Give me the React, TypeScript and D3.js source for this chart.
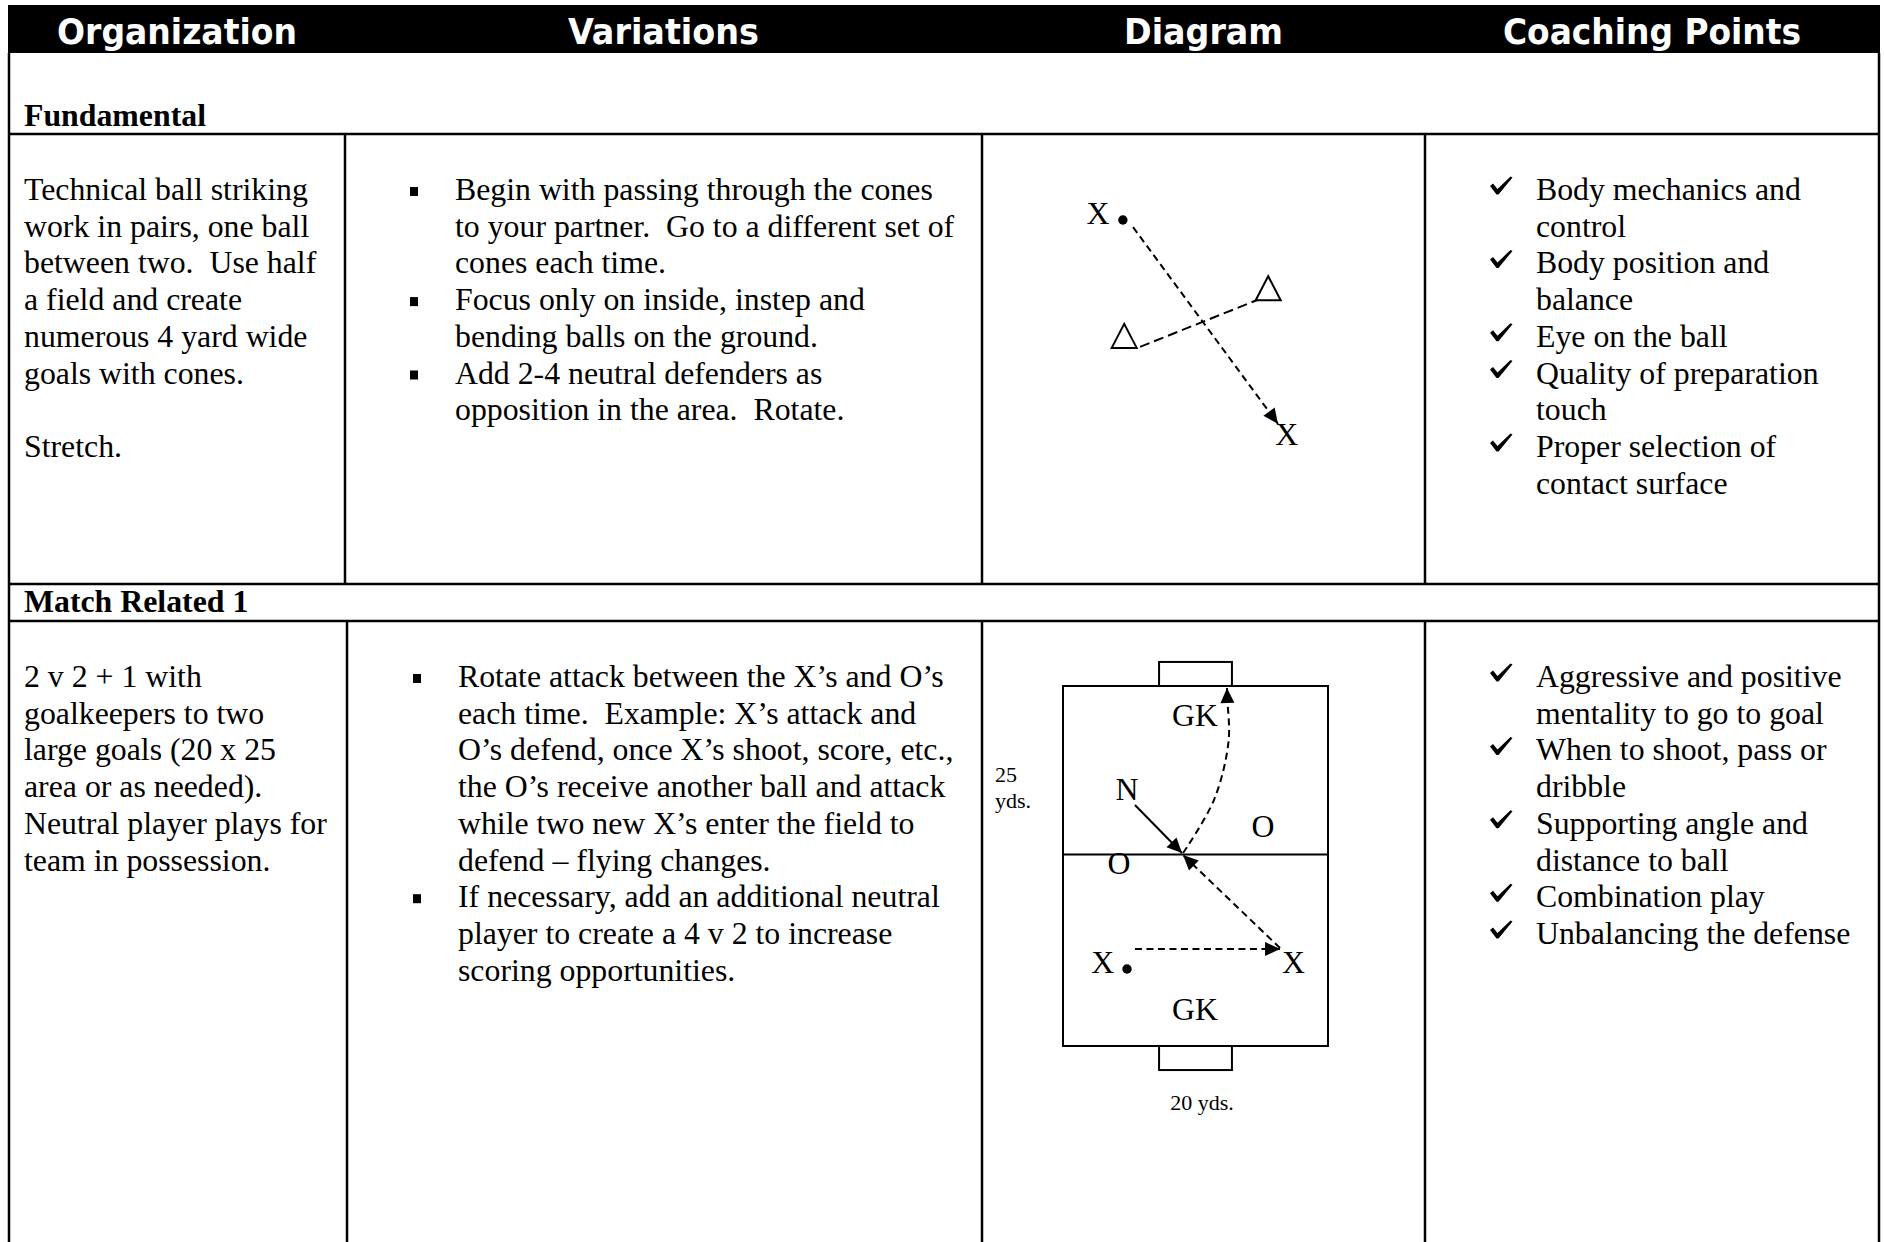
import React, { useEffect } from 'react';
import * as d3 from 'd3';

// ---- content ----
const headers = ['Organization', 'Variations', 'Diagram', 'Coaching Points'];
const sections = ['Fundamental', 'Match Related 1'];

const fundOrganization = [
  'Technical ball striking',
  'work in pairs, one ball',
  'between two.  Use half',
  'a field and create',
  'numerous 4 yard wide',
  'goals with cones.',
  '',
  'Stretch.',
];
const fundVariations = [
  ['Begin with passing through the cones', 'to your partner.  Go to a different set of', 'cones each time.'],
  ['Focus only on inside, instep and', 'bending balls on the ground.'],
  ['Add 2-4 neutral defenders as', 'opposition in the area.  Rotate.'],
];
const fundCoaching = [
  ['Body mechanics and', 'control'],
  ['Body position and', 'balance'],
  ['Eye on the ball'],
  ['Quality of preparation', 'touch'],
  ['Proper selection of', 'contact surface'],
];

const matchOrganization = [
  '2 v 2 + 1 with',
  'goalkeepers to two',
  'large goals (20 x 25',
  'area or as needed).',
  'Neutral player plays for',
  'team in possession.',
];
const matchVariations = [
  [
    'Rotate attack between the X\u2019s and O\u2019s',
    'each time.  Example: X\u2019s attack and',
    'O\u2019s defend, once X\u2019s shoot, score, etc.,',
    'the O\u2019s receive another ball and attack',
    'while two new X\u2019s enter the field to',
    'defend \u2013 flying changes.',
  ],
  ['If necessary, add an additional neutral', 'player to create a 4 v 2 to increase', 'scoring opportunities.'],
];
const matchCoaching = [
  ['Aggressive and positive', 'mentality to go to goal'],
  ['When to shoot, pass or', 'dribble'],
  ['Supporting angle and', 'distance to ball'],
  ['Combination play'],
  ['Unbalancing the defense'],
];

// ---- diagram 1 (cell units 0-100) ----
const drillLabels = [
  { text: 'X', x: 26.2, y: 20.0 },
  { text: 'X', x: 68.8, y: 69.1 },
];
const drillBalls = [{ x: 31.8, y: 19.1 }];
const drillCones = [
  { x: 32.1, y: 42.2 },
  { x: 64.6, y: 31.6 },
];
const drillPass: [number, number][] = [[34.1, 20.7], [66.8, 64.4]];
const drillGate: [number, number][] = [[35.7, 47.3], [62.1, 36.9]];

// ---- diagram 2 (yards) ----
const fieldWidthYds = 20;
const fieldLengthYds = 25;
const halfwayYds = 11.7;
const goalPosts = [7.25, 12.75];
const goalDepth = 1.67;
const fieldLabels = [
  { text: 'GK', x: 9.96, y: 2.78 },
  { text: 'GK', x: 9.96, y: 23.2 },
  { text: 'N', x: 4.83, y: 7.92 },
  { text: 'O', x: 15.1, y: 10.49 },
  { text: 'O', x: 4.23, y: 13.06 },
  { text: 'X', x: 3.0, y: 19.93 },
  { text: 'X', x: 17.4, y: 19.93 },
];
const fieldBalls = [{ x: 4.83, y: 19.65 }];
const runN: [number, number][] = [[5.43, 8.26], [8.98, 11.6]];
const shotCurve: [number, number][] = [[9.06, 11.6], [11.4, 7.9], [12.5, 3.8], [12.4, 0.9], [12.38, 0.14]];
const passBack: [number, number][] = [[16.38, 18.2], [9.06, 11.74]];
const passAcross: [number, number][] = [[5.43, 18.26], [16.38, 18.26]];
const sizeLabels = [
  { lines: ['25', 'yds.'], x: -5.13, y: 6.67, anchor: 'start' },
  { lines: ['20 yds.'], x: 10.49, y: 29.44, anchor: 'middle' },
];

// ---- layout ----
const W = 1884;
const H = 1242;
const tableL = 9;
const tableR = 1879;
const headTop = 5;
const headBot = 53;
const rowLines = [134, 584, 621];
const cols1 = [tableL, 345, 982, 1425, tableR];
const cols2 = [tableL, 347, 982, 1425, tableR];
const LH = 36.7;
const FS = 31.8;
const serif = '"Liberation Serif", "Times New Roman", serif';

const arrowHead = (tip: [number, number], from: [number, number], len = 15, half = 7) => {
  const a = Math.atan2(tip[1] - from[1], tip[0] - from[0]);
  const bx = tip[0] - len * Math.cos(a);
  const by = tip[1] - len * Math.sin(a);
  const px = -Math.sin(a) * half;
  const py = Math.cos(a) * half;
  return `${tip[0]},${tip[1]} ${bx + px},${by + py} ${bx - px},${by - py}`;
};

// calligraphic tick, relative to (left, baseline)
const tickShape: [number, number][] = [
  [0, -14], [3, -16.5], [7.5, -11], [20.5, -23.5], [22.5, -22.5], [8.5, -5.5], [6.5, -5.5],
];
const tickPoints = (x: number, b: number) => tickShape.map(([dx, dy]) => `${x + dx},${b + dy}`).join(' ');

const Lines = ({ lines, x, y0 }: { lines: string[]; x: number; y0: number }) => (
  <>
    {lines.map((t, i) => (
      <text key={i} x={x} y={y0 + i * LH} fontFamily={serif} fontSize={FS} style={{ whiteSpace: 'pre' }}>
        {t}
      </text>
    ))}
  </>
);

const Bulleted = ({ items, x, textX, y0, kind }: { items: string[][]; x: number; textX: number; y0: number; kind: 'square' | 'check' }) => {
  let idx = 0;
  return (
    <>
      {items.map((item, k) => {
        const start = idx;
        idx += item.length;
        const by = y0 + start * LH;
        return (
          <g key={k}>
            {kind === 'square' ? (
              <rect x={x} y={by - 13} width={8} height={9} fill="#000" />
            ) : (
              <polygon points={tickPoints(x, by)} fill="#000" />
            )}
            <Lines lines={item} x={textX} y0={by} />
          </g>
        );
      })}
    </>
  );
};

const DrillDiagram = () => {
  const x = d3.scaleLinear().domain([0, 100]).range([cols1[2], cols1[3]]);
  const y = d3.scaleLinear().domain([0, 100]).range([rowLines[0], rowLines[1]]);
  const line = d3.line<[number, number]>().x((d) => x(d[0])).y((d) => y(d[1]));
  const tip: [number, number] = [x(drillPass[1][0]), y(drillPass[1][1])];
  const from: [number, number] = [x(drillPass[0][0]), y(drillPass[0][1])];
  return (
    <g>
      <path d={line(drillPass) ?? ''} fill="none" stroke="#000" strokeWidth={2} strokeDasharray="7 4.5" />
      <polygon points={arrowHead(tip, from)} fill="#000" />
      <path d={line(drillGate) ?? ''} fill="none" stroke="#000" strokeWidth={2} strokeDasharray="10 5" />
      {drillCones.map((c, i) => {
        const cx = x(c.x);
        const cy = y(c.y);
        return (
          <polygon key={i} points={`${cx},${cy} ${cx - 12.5},${cy + 24} ${cx + 12.5},${cy + 24}`} fill="#fff" stroke="#000" strokeWidth={2} />
        );
      })}
      {drillBalls.map((b, i) => (
        <circle key={i} cx={x(b.x)} cy={y(b.y)} r={4.7} fill="#000" />
      ))}
      {drillLabels.map((l, i) => (
        <text key={i} x={x(l.x)} y={y(l.y)} textAnchor="middle" fontFamily={serif} fontSize={FS}>
          {l.text}
        </text>
      ))}
    </g>
  );
};

const FieldDiagram = () => {
  const x = d3.scaleLinear().domain([0, fieldWidthYds]).range([1063, 1328]);
  const y = d3.scaleLinear().domain([0, fieldLengthYds]).range([686, 1046]);
  const line = d3.line<[number, number]>().x((d) => x(d[0])).y((d) => y(d[1]));
  const curve = d3.line<[number, number]>().x((d) => x(d[0])).y((d) => y(d[1])).curve(d3.curveCatmullRom);
  const px = (p: [number, number]): [number, number] => [x(p[0]), y(p[1])];
  const dash = '7 4.5';
  return (
    <g>
      <rect x={x(0)} y={y(0)} width={x(fieldWidthYds) - x(0)} height={y(fieldLengthYds) - y(0)} fill="none" stroke="#000" strokeWidth={2} />
      <rect x={x(goalPosts[0])} y={y(-goalDepth)} width={x(goalPosts[1]) - x(goalPosts[0])} height={y(0) - y(-goalDepth)} fill="none" stroke="#000" strokeWidth={2} />
      <rect x={x(goalPosts[0])} y={y(fieldLengthYds)} width={x(goalPosts[1]) - x(goalPosts[0])} height={y(fieldLengthYds + goalDepth) - y(fieldLengthYds)} fill="none" stroke="#000" strokeWidth={2} />
      <line x1={x(0)} x2={x(fieldWidthYds)} y1={y(halfwayYds)} y2={y(halfwayYds)} stroke="#000" strokeWidth={2} />

      <path d={line(runN) ?? ''} stroke="#000" strokeWidth={2} fill="none" />
      <polygon points={arrowHead(px(runN[1]), px(runN[0]))} fill="#000" />

      <path d={curve(shotCurve) ?? ''} stroke="#000" strokeWidth={2} fill="none" strokeDasharray={dash} />
      <polygon points={arrowHead(px(shotCurve[shotCurve.length - 1]), px(shotCurve[shotCurve.length - 2]))} fill="#000" />

      <path d={line(passBack) ?? ''} stroke="#000" strokeWidth={2} fill="none" strokeDasharray={dash} />
      <polygon points={arrowHead(px(passBack[1]), px(passBack[0]))} fill="#000" />

      <path d={line(passAcross) ?? ''} stroke="#000" strokeWidth={2} fill="none" strokeDasharray={dash} />
      <polygon points={arrowHead(px(passAcross[1]), px(passAcross[0]))} fill="#000" />

      {fieldBalls.map((b, i) => (
        <circle key={i} cx={x(b.x)} cy={y(b.y)} r={4.7} fill="#000" />
      ))}
      {fieldLabels.map((l, i) => (
        <text key={i} x={x(l.x)} y={y(l.y)} textAnchor="middle" fontFamily={serif} fontSize={FS}>
          {l.text}
        </text>
      ))}
      {sizeLabels.map((s, i) => (
        <g key={i}>
          {s.lines.map((t, j) => (
            <text key={j} x={x(s.x)} y={y(s.y) + j * 26} textAnchor={s.anchor as any} fontFamily={serif} fontSize={22}>
              {t}
            </text>
          ))}
        </g>
      ))}
    </g>
  );
};

export default function App() {
  useEffect(() => {
    document.body.style.margin = '0';
  }, []);

  const headerCenters = d3.range(4).map((i) => (cols1[i] + cols1[i + 1]) / 2);
  const headerWidths = [240, 191, 159, 298];
  const bottom = H + 10;

  return (
    <svg width={W} height={H} style={{ display: 'block', background: '#fff' }}>
      {/* header band */}
      <rect x={tableL - 1} y={headTop} width={tableR - tableL + 2} height={headBot - headTop} fill="#000" />
      {headers.map((h, i) => (
        <text
          key={h}
          x={headerCenters[i]}
          y={44}
          textAnchor="middle"
          fill="#fff"
          fontFamily='"DejaVu Sans Condensed", "DejaVu Sans", sans-serif'
          fontWeight="bold"
          fontSize={36}
          style={{ fontStretch: 'condensed' }}
          textLength={headerWidths[i]}
          lengthAdjust="spacingAndGlyphs"
        >
          {h}
        </text>
      ))}

      {/* table rules */}
      <g stroke="#000" strokeWidth={2.5}>
        <line x1={tableL} x2={tableL} y1={headBot} y2={bottom} />
        <line x1={tableR} x2={tableR} y1={headBot} y2={bottom} />
        {rowLines.map((r) => (
          <line key={r} x1={tableL} x2={tableR} y1={r} y2={r} />
        ))}
        {cols1.slice(1, 4).map((c) => (
          <line key={'a' + c} x1={c} x2={c} y1={rowLines[0]} y2={rowLines[1]} />
        ))}
        {cols2.slice(1, 4).map((c) => (
          <line key={'b' + c} x1={c} x2={c} y1={rowLines[2]} y2={bottom} />
        ))}
      </g>

      {/* section labels */}
      <text x={24} y={126} fontFamily={serif} fontWeight="bold" fontSize={FS}>
        {sections[0]}
      </text>
      <text x={24} y={612} fontFamily={serif} fontWeight="bold" fontSize={FS}>
        {sections[1]}
      </text>

      {/* row 1 */}
      <Lines lines={fundOrganization} x={24} y0={200} />
      <Bulleted items={fundVariations} x={410} textX={455} y0={200} kind="square" />
      <DrillDiagram />
      <Bulleted items={fundCoaching} x={1490} textX={1536} y0={200} kind="check" />

      {/* row 2 */}
      <Lines lines={matchOrganization} x={24} y0={687} />
      <Bulleted items={matchVariations} x={413} textX={458} y0={687} kind="square" />
      <FieldDiagram />
      <Bulleted items={matchCoaching} x={1490} textX={1536} y0={687} kind="check" />
    </svg>
  );
}
